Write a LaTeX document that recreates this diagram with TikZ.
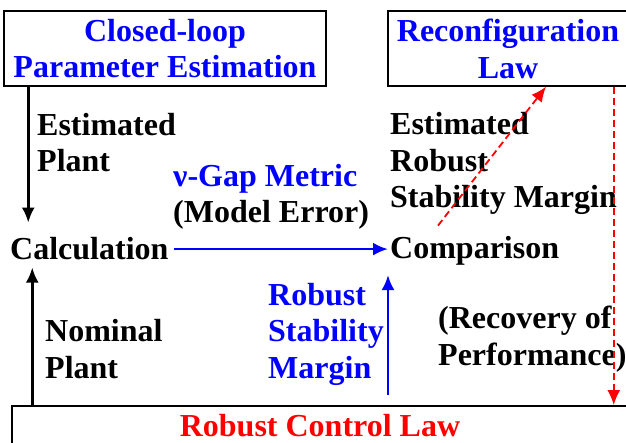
\documentclass[tikz,border=0pt]{standalone}
\usepackage{fontspec}
\setmainfont{Liberation Serif}
\usetikzlibrary{arrows.meta}

\begin{document}
\begin{tikzpicture}[x = 1pt, y = -1pt,
	font = \fontsize{32}{36.5}\selectfont\bfseries,
	block/.style = {draw, line width = 1.5pt, align = center, inner sep = 0pt},
	txt/.style = {anchor = base west, align = left, inner sep = 0pt},
	flow/.style = {-{Latex[length = 15pt, width = 13pt]}, line width = 2.6pt},
	dashflow/.style = {flow, red, line width = 1.8pt, dash pattern = on 7pt off 4pt}]

	% Frame (the picture is cut at its right and bottom edges)

	\useasboundingbox (0, 0) rectangle (626, 443);
	\clip (0, 0) rectangle (626, 443);


	% Blocks

	\node [block, text = blue, text depth = 0pt, minimum width = 322pt, minimum height = 75pt] (estim) at (165, 48.5)
		{Closed-loop\\Parameter Estimation};
	\node [block, text = blue, text depth = 0pt, minimum width = 240pt, minimum height = 75pt] (reconf) at (508, 48.5)
		{Reconfiguration\\Law};
	\node [block, text = red, anchor = north, minimum width = 616pt, text height = 23pt,
		text depth = 7pt, inner ysep = 8pt] (ctrl) at (320, 405) {Robust Control Law};


	% Texts (placed at the baseline of their last line)

	\node [txt] (calc) at (10, 260) {Calculation};
	\node [txt] (comp) at (390, 259) {Comparison};
	\node [txt] (plant) at (37, 172) {Estimated\\Plant};
	\node [txt] (gap) at (173, 223) {{\color{blue}ν-Gap Metric}\\(Model Error)};
	\node [txt] (margin) at (390, 208) {Estimated\\Robust\\Stability Margin};
	\node [txt, text = blue] (rsm) at (268, 378) {Robust\\Stability\\Margin};
	\node [txt] (nominal) at (45, 378) {Nominal\\Plant};
	\node [txt] (recov) at (438, 365) {(Recovery of\\Performance)};


	% Connectors

	\draw [flow, shorten > = 15pt] ([xshift = 25pt] estim.south west) -- ([xshift = 25pt] estim.south west |- calc.north);
	\draw [flow, shorten > = 7pt] ([xshift = 21pt] ctrl.north west) -- ([xshift = 21pt] ctrl.north west |- calc.south);
	\draw [flow, blue, shorten < = 5pt, shorten > = 2pt] (calc.east) -- (calc.east -| comp.west);
	\draw [flow, blue, shorten < = 10pt, shorten > = 9pt] ([xshift = -2pt] comp.south west |- ctrl.north) -- ([xshift = -2pt] comp.south west);
	\draw [dashflow] ([xshift = 48pt, yshift = 11pt] comp.north west) -- ([xshift = 38pt] reconf.south);
	\draw [dashflow] ([xshift = -15pt] reconf.south east) -- ([xshift = -15pt] reconf.south east |- ctrl.north);

\end{tikzpicture}
\end{document}
